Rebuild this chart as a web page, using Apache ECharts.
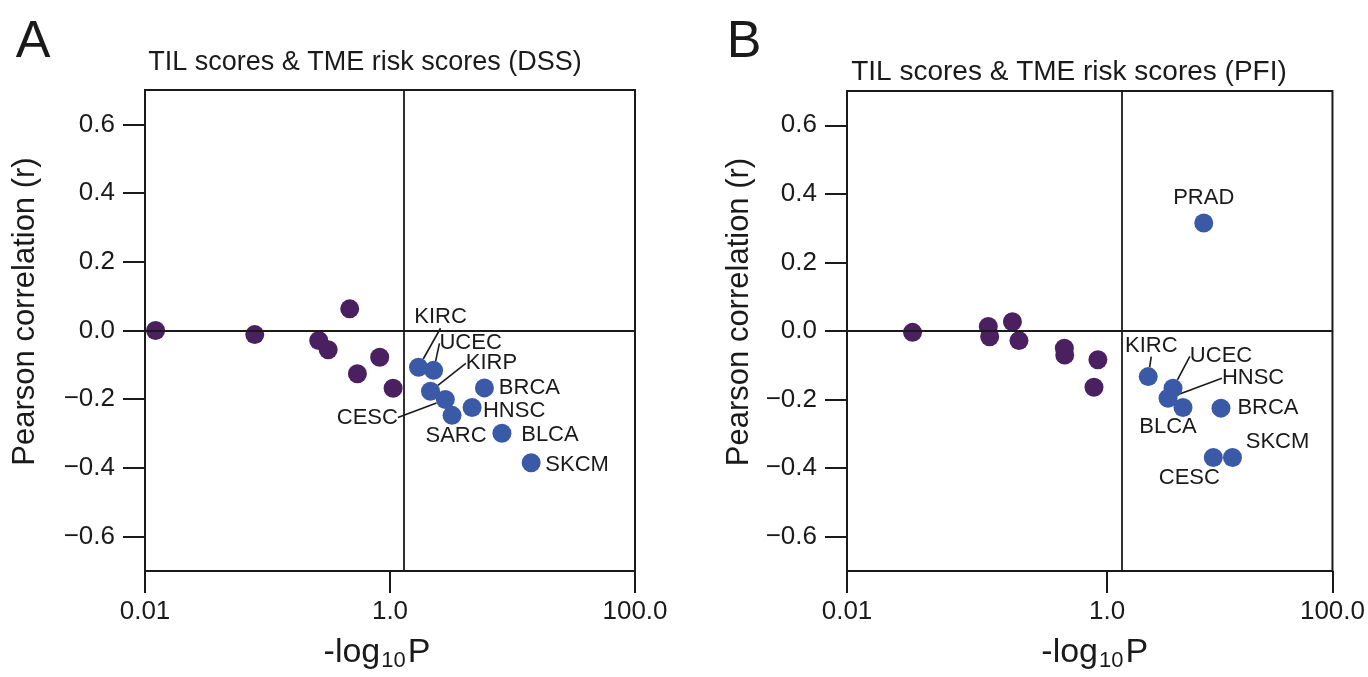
<!DOCTYPE html>
<html>
<head>
<meta charset="utf-8">
<script src="https://cdn.jsdelivr.net/npm/echarts@6/dist/echarts.min.js"></script>
<style>
  html, body { margin: 0; padding: 0; background: #ffffff; }
  #chart { width: 1368px; height: 677px; }
</style>
</head>
<body>
<div id="chart"></div>
<script>
// ---- Panel A: disease-specific survival (DSS) ----
// Cancer types with P >= 0.05 (unlabelled)
const dssOtherP = [0.0122, 0.0787, 0.262, 0.313, 0.469, 0.824, 0.542, 1.06];
const dssOtherR = [0.0, -0.012, -0.029, -0.056, 0.063, -0.078, -0.126, -0.168];
// Cancer types with P < 0.05
const dssSigNames = ['KIRC', 'UCEC', 'KIRP', 'CESC', 'SARC', 'BRCA', 'HNSC', 'BLCA', 'SKCM'];
const dssSigP = [1.71, 2.27, 2.14, 2.83, 3.21, 5.9, 4.68, 8.2, 14.2];
const dssSigR = [-0.107, -0.116, -0.177, -0.201, -0.247, -0.167, -0.224, -0.299, -0.385];

// ---- Panel B: progression-free interval (PFI) ----
const pfiOtherP = [0.0319, 0.122, 0.125, 0.187, 0.21, 0.469, 0.472, 0.849, 0.792];
const pfiOtherR = [-0.004, 0.013, -0.017, 0.027, -0.028, -0.05, -0.07, -0.084, -0.164];
const pfiSigNames = ['PRAD', 'KIRC', 'UCEC', 'HNSC', 'BLCA', 'BRCA', 'SKCM', 'CESC'];
const pfiSigP = [5.53, 2.07, 3.21, 2.94, 3.83, 7.5, 9.2, 6.55];
const pfiSigR = [0.315, -0.133, -0.167, -0.196, -0.223, -0.225, -0.369, -0.369];

// ---- Axis ticks ----
const rTicks = [-0.6, -0.4, -0.2, 0, 0.2, 0.4, 0.6];
const pTicksA = [0.01, 1, 100];
const pTickLabels = ['0.01', '1.0', '100.0'];
const pEdgeB = 54;                        // right edge of panel B's x axis
const pTicksB = [0.01, 1, pEdgeB];
const pThreshold = 1.301;                 // -log10(0.05)

const FONT = '"Liberation Sans", Arial, Helvetica, sans-serif';
const INK = '#1a1a1a';
const PURPLE = '#4a2060';
const BLUE = '#3a5aa8';

// label offsets (dx, dy from the dot centre) and which labels get a leader line
const shiftA = { KIRC: [22, -50], UCEC: [37, -27], KIRP: [61, -28], CESC: [-78, 18],
                 SARC: [4, 21], BRCA: [45, 0], HNSC: [42, 3], BLCA: [48, 2], SKCM: [46, 2] };
const leaderA = ['KIRC', 'UCEC', 'KIRP', 'CESC'];
const shiftB = { PRAD: [0, -25], KIRC: [3, -31], UCEC: [48, -32], HNSC: [85, -20],
                 BLCA: [-15, 19], BRCA: [47, 0], SKCM: [45, -16], CESC: [-24, 20] };
const leaderB = ['KIRC', 'UCEC', 'HNSC'];

function pts(xs, ys) { return xs.map((x, i) => [x, ys[i]]); }
function named(names, xs, ys, leaders) {
  return names.map((n, i) => ({
    name: n, value: [xs[i], ys[i]],
    labelLine: { show: leaders.indexOf(n) >= 0 }
  }));
}

function xAxis(gridIndex, max, ticks, namePad) {
  return {
    type: 'log', logBase: 10, gridIndex, min: 0.01, max,
    axisLine: { show: true, onZero: false, lineStyle: { color: INK, width: 2 } },
    axisTick: { show: true, length: 22, lineStyle: { color: INK, width: 2 }, customValues: ticks },
    axisLabel: {
      customValues: ticks, margin: 28, color: INK, fontFamily: FONT, fontSize: 26,
      formatter: v => pTickLabels[ticks.findIndex(t => Math.abs(t - v) < 1e-9 * Math.max(1, t))]
    },
    splitLine: { show: false },
    name: '{a|-log}{s|10}{a|P}', nameLocation: 'middle', nameGap: 64,
    nameTextStyle: {
      color: INK, fontFamily: FONT, padding: namePad,
      rich: {
        a: { fontSize: 34, fontFamily: FONT, color: INK, lineHeight: 36 },
        s: { fontSize: 22, fontFamily: FONT, color: INK, lineHeight: 36, padding: [16, 2, 0, 1] }
      }
    }
  };
}

function yAxis(gridIndex, nameGap) {
  return {
    type: 'value', gridIndex, min: -0.7, max: 0.7,
    axisLine: { show: true, onZero: false, lineStyle: { color: INK, width: 2 } },
    axisTick: { show: true, length: 22, lineStyle: { color: INK, width: 2 }, customValues: rTicks },
    axisLabel: {
      customValues: rTicks, margin: 30, color: INK, fontFamily: FONT, fontSize: 26,
      formatter: v => (v < 0 ? '\u2212' : '') + Math.abs(v).toFixed(1)
    },
    splitLine: { show: false },
    name: 'Pearson correlation (r)', nameLocation: 'middle', nameGap, nameRotate: 90,
    nameTextStyle: { color: INK, fontFamily: FONT, fontSize: 31, padding: [0, 0, 0, 38] }
  };
}

function refLines() {
  return {
    silent: true, symbol: 'none', animation: false,
    label: { show: false },
    lineStyle: { color: INK, width: 1.8, type: 'solid' },
    emphasis: { disabled: true },
    data: [{ xAxis: pThreshold }, { yAxis: 0 }]
  };
}

function sigSeries(idx, data, shifts) {
  return {
    type: 'scatter', xAxisIndex: idx, yAxisIndex: idx, data,
    symbolSize: 19, itemStyle: { color: BLUE, opacity: 1 },
    label: {
      show: true, position: 'inside', formatter: '{b}',
      color: INK, fontFamily: FONT, fontSize: 22
    },
    labelLine: { show: false, lineStyle: { color: INK, width: 1.6 } },
    labelLayout: p => {
      const s = shifts[p.text];
      return s ? { dx: s[0], dy: s[1] } : {};
    },
    emphasis: { disabled: true },
    z: 3
  };
}

const chart = echarts.init(document.getElementById('chart'), null, { renderer: 'canvas' });
chart.setOption({
  animation: false,
  backgroundColor: '#ffffff',
  grid: [
    { left: 145, top: 90, width: 490, height: 481, show: true, borderColor: INK, borderWidth: 2, backgroundColor: 'transparent' },
    { left: 847, top: 91, width: 490, height: 481, show: true, borderColor: INK, borderWidth: 2, backgroundColor: 'transparent' }
  ],
  xAxis: [xAxis(0, 100, pTicksA, [0, 26, 0, 0]), xAxis(1, pEdgeB, pTicksB, [0, 0, 0, 10])],
  yAxis: [yAxis(0, 104), yAxis(1, 92)],
  graphic: [
    { type: 'text', x: 33, y: 43, style: { text: 'A', font: '52px ' + FONT, fill: INK, align: 'center', verticalAlign: 'middle' } },
    { type: 'text', x: 744, y: 43, style: { text: 'B', font: '52px ' + FONT, fill: INK, align: 'center', verticalAlign: 'middle' } },
    { type: 'text', x: 365, y: 63, style: { text: 'TIL scores & TME risk scores (DSS)', font: '27px ' + FONT, fill: INK, align: 'center', verticalAlign: 'middle' } },
    { type: 'text', x: 1069, y: 72, style: { text: 'TIL scores & TME risk scores (PFI)', font: '28px ' + FONT, fill: INK, align: 'center', verticalAlign: 'middle' } }
  ],
  series: [
    {
      type: 'scatter', xAxisIndex: 0, yAxisIndex: 0, data: pts(dssOtherP, dssOtherR),
      symbolSize: 19, itemStyle: { color: PURPLE, opacity: 1 }, emphasis: { disabled: true },
      markLine: refLines(), z: 2
    },
    sigSeries(0, named(dssSigNames, dssSigP, dssSigR, leaderA), shiftA),
    {
      type: 'scatter', xAxisIndex: 1, yAxisIndex: 1, data: pts(pfiOtherP, pfiOtherR),
      symbolSize: 19, itemStyle: { color: PURPLE, opacity: 1 }, emphasis: { disabled: true },
      markLine: refLines(), z: 2
    },
    sigSeries(1, named(pfiSigNames, pfiSigP, pfiSigR, leaderB), shiftB)
  ]
});
</script>
</body>
</html>
